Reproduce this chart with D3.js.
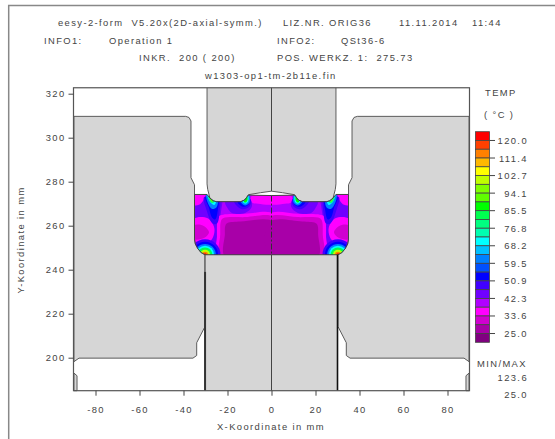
<!DOCTYPE html>
<html>
<head>
<meta charset="utf-8">
<style>
    html, body { margin: 0; padding: 0; background: #fff; }
    svg { display: block; }
    text { font-family: "Liberation Sans", Arial, sans-serif; font-size: 9.4px; fill: #444; letter-spacing: 1.4px; white-space: pre; }
    .tick line, .axis-line { stroke: #444; }
    .tool { fill: #d6d6d6; stroke: #5c5c5c; stroke-width: 1; stroke-linejoin: round; }
</style>
<script src="https://d3js.org/d3.v7.min.js"></script>
</head>
<body>
<svg width="555" height="439"></svg>
<script>
    const xTicks = [-80, -60, -40, -20, 0, 20, 40, 60, 80];
    const yTicks = [200, 220, 240, 260, 280, 300, 320];
    const legendLabels = ["120.0", "111.4", "102.7", "94.1", "85.5", "76.8", "68.2", "59.5", "50.9", "42.3", "33.6", "25.0"];
    const legendColors = ["#ff0000", "#ff4000", "#ff8000", "#ffb800", "#ffff00", "#c0ff00", "#80ff00", "#60ff00",
        "#00ff00", "#00ff50", "#00ff80", "#00ffb0", "#00ffff", "#00c0ff", "#0080ff", "#0050ff",
        "#0000ff", "#4000ff", "#7000ff", "#b000ff", "#ff00ff", "#d000d0", "#a800a8", "#800080"];
    const minMax = ["123.6", "25.0"];

    const billetHalf = [[0, 273.7], [-10.5, 273.9], [-11.2, 273], [-12.2, 271.7], [-14, 270.9], [-25, 270.9], [-26.5, 271.3],
        [-28, 272.6], [-29.3, 274.2], [-35, 274.2], [-35, 254], [-34.6, 251.7], [-33.5, 249.6], [-32, 247.8], [-30.2, 246.8], [0, 246.8]];
    const punchHalf = [[-29.3, 322.7], [-29.3, 279], [-29, 276.5], [-28, 272.6], [-26.5, 271.3], [-25, 270.9], [-14, 270.9],
        [-12.2, 271.7], [-11.2, 273], [-10.5, 274.1], [-5, 275], [0, 275.7]];
    const dieLeft = [[-89.8, 309.7], [-39, 309.7], [-37.5, 309.2], [-36.6, 307.6], [-36.6, 281.8], [-35, 278.6], [-35, 254],
        [-34.6, 251.7], [-33.5, 249.6], [-32, 247.8], [-30.2, 246.8], [-30.2, 214.2], [-34, 206.8], [-34, 201],
        [-35.7, 199.8], [-87.5, 199.8], [-89.8, 198.2]];
    const sliverLeft = [[-89.8, 193], [-88.4, 191.8], [-88.4, 185], [-89.8, 185]];
    const ejectorHalf = [[-30.2, 246.8], [-30.2, 185], [0, 185]];

    // temperature zones [temp, outline], painted low layers first
    const baseTemp = 40;
    const zones = [
        [44, [[-35.5, 275], [-23, 275], [-23, 266], [-24, 261], [-25, 252], [-25, 246], [-36, 246]]],
        [36, [[-24.6, 246], [-24.8, 255], [-24.6, 262], [-23.8, 264.4], [-22, 265], [-12, 265.4], [1, 265.2], [1, 246]]],
        [31, [[-23.2, 246], [-23.3, 256], [-23, 262], [-22, 263.4], [-12, 263.9], [1, 263.8], [1, 246]]],
        [27, [[-21.2, 246], [-21.2, 256], [-21, 260], [-20, 261.2], [-14, 261.9], [1, 261.7], [1, 246]]],
        [36, [[-35.5, 263], [-29, 263.4], [-26, 259], [-27, 254], [-31, 251.5], [-35.5, 252]]],
        [31, [[-35.5, 260], [-31, 260], [-28.4, 257], [-30.5, 254.5], [-35.5, 254]]],
        [36, [[-35.5, 275], [-30, 275], [-31, 271.5], [-33, 269.5], [-35.5, 269.5]]],
        [36, [[-21, 271], [-15, 271], [-15.5, 269.8], [-20, 269.6]]],
        [36, [[-9, 273.5], [1, 273.5], [1, 270], [-6, 270], [-9, 270.7]]],
        [44, [[-21, 271], [-9.5, 271.5], [-9, 268.5], [-12, 265.8], [-18, 265.8], [-20, 268]]],
        [48, [[-30.6, 273], [-23.8, 272], [-23.6, 266], [-24.8, 261], [-26.8, 261], [-29.5, 267]]],
        [53, [[-30, 273], [-24.2, 272], [-24.4, 267], [-25.6, 262.8], [-27.2, 264], [-28.4, 268]]],
        [48, [[-17, 271], [-9.5, 272], [-10, 268.7], [-13.5, 267.5]]],
        [53, [[-15.5, 271], [-10, 272.5], [-10.5, 269.5], [-13, 268.6]]],
        [62, [[-29.6, 274.5], [-24.6, 272], [-25, 268.4], [-27, 267.6], [-29, 270.5]]],
        [70, [[-29.2, 274.5], [-25.2, 271.6], [-26, 269.4], [-27.6, 270.4]]],
        [80, [[-28.8, 274], [-25.8, 271.3], [-26.8, 270.2], [-28, 271]]],
        [90, [[-28.4, 273.8], [-26.3, 271.3], [-27.2, 270.9]]],
        [62, [[-14, 271], [-10.2, 274], [-10, 270.6], [-12, 269.2]]],
        [72, [[-13.2, 271], [-10.6, 273.6], [-10.6, 271], [-11.8, 270]]],
        [86, [[-12.6, 271], [-11, 273.2], [-11, 271.4], [-11.8, 270.5]]]
    ];
    // rings round the hot bottom corner [temp, radius]
    const hotCorner = [-30.2, 246.8];
    const hotRings = [[47, 7], [53, 5.9], [62, 4.9], [70, 4.1], [85, 3.3], [102, 2.3], [113, 1.4], [121, 0.7]];

    const width = 555, height = 439;
    const svg = d3.select("svg");
    const x = d3.scaleLinear().domain([-90, 90]).range([73.5, 469.5]);
    const y = d3.scaleLinear().domain([185, 320]).range([390.7, 93.7]);
    const yTop = 322.7;

    // 24 colour steps of 4.31 deg, lowest 20.7 - 25.0
    const tempColor = d3.scaleQuantize().domain([20.7, 124.3]).range(legendColors.slice().reverse());
    const line = d3.line().x(d => x(d[0])).y(d => y(d[1]));
    const smooth = d3.line().x(d => x(d[0])).y(d => y(d[1])).curve(d3.curveCatmullRomClosed.alpha(0.5));
    const mirror = pts => pts.map(p => [-p[0], p[1]]);
    const both = half => half.concat(mirror(half).reverse());

    // outer page border
    svg.append("path").attr("d", `M${width},5.5H8.7V${height}`).attr("fill", "none").attr("stroke", "#888").attr("stroke-width", 1.5);

    // header
    const putText = (t, px, py, anchor) => svg.append("text").attr("x", px).attr("y", py).attr("text-anchor", anchor || "start").text(t);
    putText("eesy-2-form  V5.20x(2D-axial-symm.)", 58, 26);
    putText("LIZ.NR. ORIG36", 283, 26);
    putText("11.11.2014", 399, 26);
    putText("11:44", 472, 26);
    putText("INFO1:", 44, 44);
    putText("Operation 1", 109, 44);
    putText("INFO2:", 277, 44);
    putText("QSt36-6", 341, 44);
    putText("INKR.  200 ( 200)", 139, 61);
    putText("POS. WERKZ. 1:  275.73", 277, 61);
    putText("w1303-op1-tm-2b11e.fin", 205, 79);

    // tools
    const tools = svg.append("g");
    tools.append("path").attr("class", "tool").attr("d", line(dieLeft) + "Z");
    tools.append("path").attr("class", "tool").attr("d", line(mirror(dieLeft)) + "Z");
    tools.append("path").attr("class", "tool").attr("d", line(sliverLeft) + "Z");
    tools.append("path").attr("class", "tool").attr("d", line(mirror(sliverLeft)) + "Z");
    tools.append("path").attr("class", "tool").attr("d", line(both(punchHalf)));
    tools.append("path").attr("d", line(both(ejectorHalf)) + "Z").attr("fill", "#d6d6d6");

    // workpiece temperature field
    const billet = both(billetHalf);
    svg.append("clipPath").attr("id", "billet").append("path").attr("d", line(billet) + "Z");
    const field = svg.append("g").attr("clip-path", "url(#billet)");
    field.append("path").attr("d", line(billet) + "Z").attr("fill", tempColor(baseTemp));
    zones.forEach(([temp, pts]) => {
        field.append("path").attr("d", smooth(pts)).attr("fill", tempColor(temp));
        field.append("path").attr("d", smooth(mirror(pts))).attr("fill", tempColor(temp));
    });
    hotRings.forEach(([temp, r]) => {
        [hotCorner, mirror([hotCorner])[0]].forEach(c => {
            field.append("circle").attr("cx", x(c[0])).attr("cy", y(c[1]))
                .attr("r", x(r) - x(0)).attr("fill", tempColor(temp));
        });
    });
    svg.append("path").attr("d", line(billet) + "Z").attr("fill", "none").attr("stroke", "#444").attr("stroke-width", 1);

    // centre line, dash-dot inside the workpiece
    const axisLine = (x0, y0, y1, w, col, dash) => svg.append("line").attr("x1", x(x0)).attr("x2", x(x0))
        .attr("y1", y(y0)).attr("y2", y(y1)).attr("stroke", col).attr("stroke-width", w).attr("stroke-dasharray", dash || null);
    axisLine(0, yTop, 275.7, 1, "#444");
    axisLine(0, 273.7, 246.8, 1, "#333", "6 2 2 2");
    axisLine(0, 246.8, 185, 1, "#444");
    // ejector edges
    axisLine(-30.2, 246.8, 185, 1, "#444");
    axisLine(-30.2, 239, 185, 2, "#333");
    axisLine(30, 246.8, 185, 1.6, "#111");

    // frame and axes
    svg.append("rect").attr("x", x(-90)).attr("y", y(yTop)).attr("width", x(90) - x(-90)).attr("height", y(185) - y(yTop))
        .attr("fill", "none").attr("stroke", "#555").attr("stroke-width", 1.2);
    const xAxis = svg.append("g").attr("transform", `translate(0,${y(185)})`)
        .call(d3.axisBottom(x).tickValues(xTicks).tickSize(5).tickPadding(11).tickFormat(d => String(d)));
    const yAxis = svg.append("g").attr("transform", `translate(${x(-90)},0)`)
        .call(d3.axisLeft(y).tickValues(yTicks).tickSize(5).tickPadding(3).tickFormat(d => String(d)));
    xAxis.select(".domain").remove();
    yAxis.select(".domain").remove();
    svg.selectAll(".tick text").style("font-size", "9.4px").style("font-family", "'Liberation Sans', Arial, sans-serif");
    putText("X-Koordinate in mm", 271, 430, "middle");
    svg.append("text").attr("transform", "translate(24,240) rotate(-90)").attr("text-anchor", "middle").text("Y-Koordinate in mm");

    // legend
    const cell = d3.scaleBand().domain(d3.range(legendColors.length)).range([131.7, 342.3]);
    svg.append("g").selectAll("rect").data(legendColors).join("rect")
        .attr("x", 475.5).attr("width", 14).attr("y", (d, i) => cell(i)).attr("height", cell.bandwidth())
        .attr("fill", d => d).attr("stroke", "#444").attr("stroke-width", 0.8);
    legendLabels.forEach((t, i) => {
        const py = cell(i * 2 + 1);
        svg.append("line").attr("x1", 489.5).attr("x2", 495).attr("y1", py).attr("y2", py).attr("stroke", "#444");
        putText(t, 528, py + 3.5, "end");
    });
    putText("TEMP", 485, 96);
    putText("( \u00B0C )", 484, 118);
    putText("MIN/MAX", 477, 367);
    putText(minMax[0], 528, 381, "end");
    putText(minMax[1], 528, 398, "end");
</script>
</body>
</html>
